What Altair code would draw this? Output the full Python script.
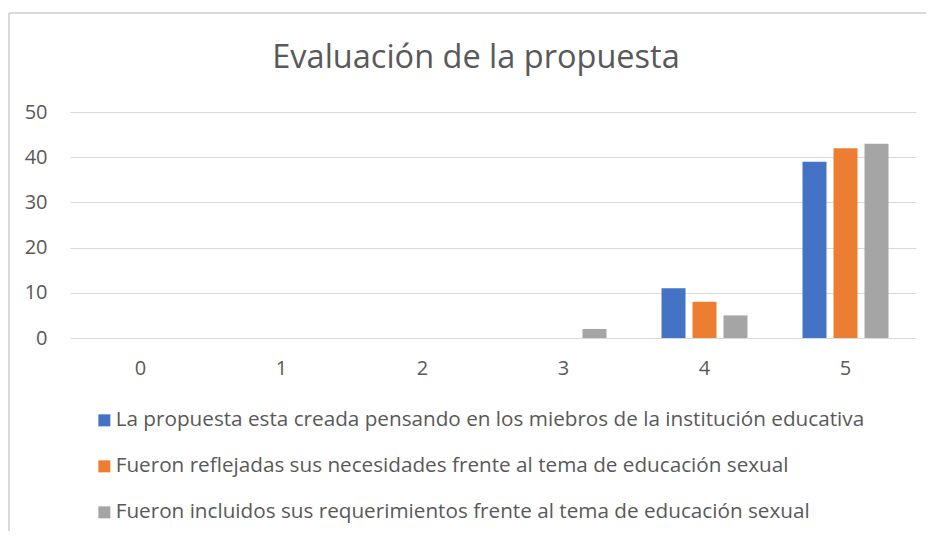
import altair as alt
import pandas as pd

categories = ["0", "1", "2", "3", "4", "5"]
series_names = [
    "La propuesta esta creada pensando en los miebros de la institución educativa",
    "Fueron reflejadas sus necesidades frente al tema de educación sexual",
    "Fueron incluidos sus requerimientos frente al tema de educación sexual",
]
s1 = [0, 0, 0, 0, 11, 39]
s2 = [0, 0, 0, 0, 8, 42]
s3 = [0, 0, 0, 2, 5, 43]
colors = ["#4472C4", "#ED7D31", "#A5A5A5"]

rows = []
for name, vals in zip(series_names, [s1, s2, s3]):
    for c, v in zip(categories, vals):
        rows.append({"cat": c, "serie": name, "valor": v})
df = pd.DataFrame(rows)

FONT = "Open Sans"
GRAY = "#595959"

bars = alt.Chart(df).mark_bar().encode(
    x=alt.X("cat:N", sort=categories,
            scale=alt.Scale(paddingInner=0, paddingOuter=0),
            axis=alt.Axis(title=None, labelAngle=0, domain=False, ticks=False,
                          labelPadding=20, labelFontSize=20, labelColor=GRAY,
                          labelFont=FONT)),
    xOffset=alt.XOffset("serie:N", sort=series_names,
                        scale=alt.Scale(paddingInner=0.2258, paddingOuter=0.887)),
    y=alt.Y("valor:Q",
            scale=alt.Scale(domain=[0, 50], nice=False),
            axis=alt.Axis(title=None, values=[0, 10, 20, 30, 40, 50], domain=False,
                          ticks=False, labelPadding=23, labelFontSize=20,
                          labelColor=GRAY, labelFont=FONT, gridColor="#D9D9D9",
                          gridWidth=1)),
    color=alt.Color("serie:N", sort=series_names,
                    scale=alt.Scale(domain=series_names, range=colors),
                    legend=alt.Legend(title=None, orient="none", legendX=24,
                                      legendY=298, symbolType="square",
                                      symbolSize=144, symbolStrokeWidth=0,
                                      labelFontSize=20.7, labelColor=GRAY,
                                      labelFont=FONT, rowPadding=24,
                                      labelOffset=1, labelLimit=900,
                                      direction="vertical")),
)

frame_left = alt.Chart(df).mark_rule(color="#D9D9D9", strokeWidth=2, clip=False).encode(
    x=alt.value(-61), y=alt.value(-99), y2=alt.value(440))
frame_top = alt.Chart(df).mark_rule(color="#D9D9D9", strokeWidth=2, clip=False).encode(
    x=alt.value(-61), x2=alt.value(860), y=alt.value(-99))

chart = alt.layer(frame_left, frame_top, bars).properties(
    width=846, height=226,
    autosize=alt.AutoSizeParams(type="none"),
    padding={"left": 62, "top": 104, "right": 10, "bottom": 193},
    title=alt.TitleParams("Evaluación de la propuesta", fontSize=32.5,
                          fontWeight="normal", font=FONT, color=GRAY,
                          anchor="middle", baseline="alphabetic",
                          offset=-88, dx=-17),
).configure_view(stroke=None)

chart.save("out.html", embed_options={"renderer": "svg", "actions": False})
